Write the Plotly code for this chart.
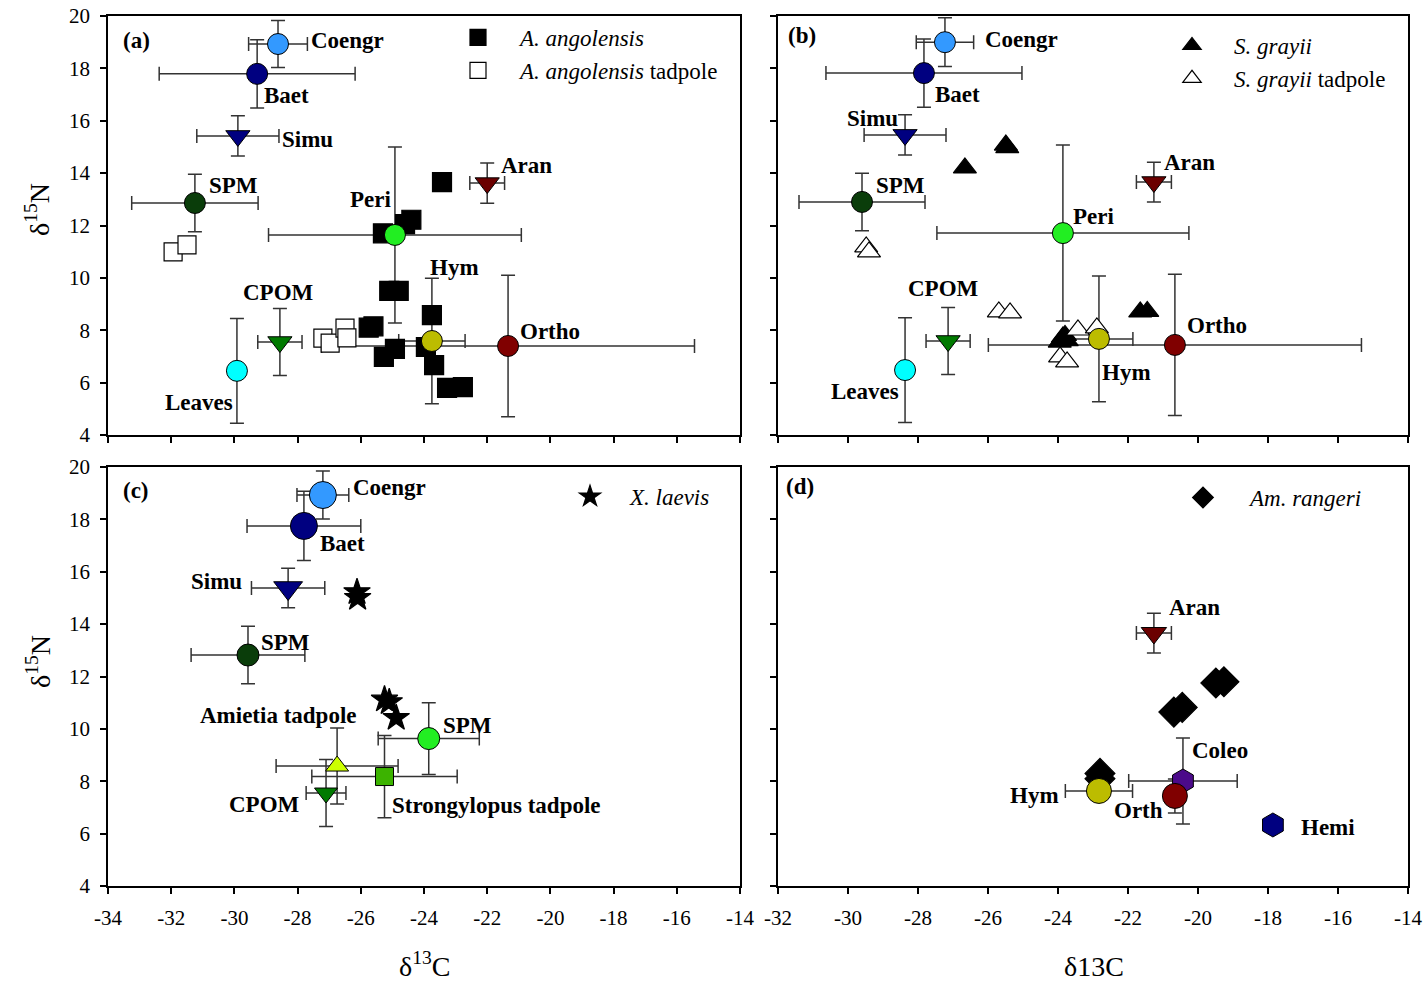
import plotly.graph_objects as go

# ---------------- data ----------------
# panel (a)
a_names = ["Coengr", "Baet", "Simu", "SPM", "Peri", "Aran", "Hym", "Ortho", "CPOM", "Leaves"]
a_x = [-28.62, -29.28, -29.89, -31.25, -24.92, -22.0, -23.75, -21.34, -28.56, -29.92]
a_y = [18.93, 17.79, 15.42, 12.86, 11.64, 13.62, 7.59, 7.40, 7.55, 6.45]
a_xerr = [0.93, 3.1, 1.3, 2.0, 4.0, 0.55, 1.05, 5.9, 0.7, 0]
a_yerr = [0.9, 1.3, 0.77, 1.1, 3.36, 0.77, 2.4, 2.7, 1.28, 2.0]
a_sym = ["circle", "circle", "triangle-down", "circle", "circle", "triangle-down", "circle", "circle", "triangle-down", "circle"]
a_col = ["#3399ff", "#000080", "#000080", "#0a3d0a", "#22ee22", "#6b0000", "#bcbc00", "#800000", "#007a00", "#00ffff"]

ang_x = [-23.43, -24.4, -24.6, -25.3, -25.1, -24.8, -23.75, -25.75, -25.6, -24.92, -25.27, -23.94, -23.68, -23.27, -22.77]
ang_y = [13.66, 12.22, 12.05, 11.7, 9.5, 9.5, 8.58, 8.1, 8.15, 7.29, 6.98, 7.36, 6.67, 5.8, 5.83]
angt_x = [-31.94, -31.5, -27.2, -26.97, -26.5, -26.44]
angt_y = [10.99, 11.26, 7.7, 7.51, 8.08, 7.71]

# panel (b)
b_names = ["Coengr", "Baet", "Simu", "SPM", "Peri", "Aran", "Hym", "Ortho", "CPOM", "Leaves"]
b_x = [-27.23, -27.83, -28.37, -29.6, -23.86, -21.26, -22.83, -20.66, -27.14, -28.37]
b_y = [19.0, 17.82, 15.46, 12.9, 11.71, 13.66, 7.67, 7.44, 7.59, 6.48]
b_xerr = [0.82, 2.8, 1.17, 1.8, 3.6, 0.5, 0.97, 5.33, 0.63, 0]
b_yerr = [0.93, 1.3, 0.77, 1.1, 3.36, 0.76, 2.4, 2.7, 1.28, 2.0]
b_sym = a_sym
b_col = a_col

gra_x = [-25.49, -25.45, -26.66, -21.65, -21.45, -23.86, -23.75, -23.95, -23.8]
gra_y = [15.07, 14.97, 14.2, 8.7, 8.72, 7.74, 7.6, 7.55, 7.8]
grat_x = [-29.48, -29.4, -25.69, -25.37, -23.43, -22.89, -23.94, -23.74]
grat_y = [11.18, 10.99, 8.7, 8.66, 8.01, 8.09, 6.98, 6.79]

# panel (c)
c_names = ["Coengr", "Baet", "Simu", "SPM", "SPM", "CPOM", "Amietia tadpole", "Strongylopus tadpole"]
c_x = [-27.2, -27.8, -28.3, -29.57, -23.85, -27.1, -26.75, -25.25]
c_y = [18.93, 17.75, 15.38, 12.82, 9.63, 7.55, 8.58, 8.18]
c_xerr = [0.82, 1.8, 1.16, 1.8, 1.6, 0.63, 1.93, 2.3]
c_yerr = [0.92, 1.32, 0.75, 1.1, 1.37, 1.28, 1.45, 1.57]
c_sym = ["circle", "circle", "triangle-down", "circle", "circle", "triangle-down", "triangle-up", "square"]
c_col = ["#3399ff", "#000080", "#000080", "#0a3d0a", "#22ee22", "#007a00", "#ccff00", "#3cb300"]
c_size = [27, 27, 25, 22, 22, 20, 20, 18]

lae_x = [-26.12, -26.1, -25.25, -25.1, -24.88]
lae_y = [15.22, 15.0, 11.12, 11.02, 10.42]

# panel (d)
d_names = ["Aran", "Coleo", "Hym", "Orth", "Hemi"]
d_x = [-21.26, -20.43, -22.83, -20.66, -17.86]
d_y = [13.66, 8.01, 7.63, 7.44, 6.33]
d_xerr = [0.5, 1.55, 0.96, 0, 0]
d_yerr = [0.76, 1.64, 0, 0.65, 0]
d_sym = ["triangle-down", "hexagon", "circle", "circle", "hexagon"]
d_col = ["#6b0000", "#4b0a8a", "#bcbc00", "#800000", "#000080"]
d_size = [22, 24, 25, 25, 24]

ran_x = [-19.49, -19.26, -20.69, -20.45, -22.8, -22.8]
ran_y = [11.75, 11.8, 10.64, 10.82, 8.3, 8.1]

# tick labels (hyphen minus as in the original)
x_ticks_left = [-34, -32, -30, -28, -26, -24, -22, -20, -18, -16, -14]
x_ticks_right = [-32, -30, -28, -26, -24, -22, -20, -18, -16, -14]
y_ticks = [4, 6, 8, 10, 12, 14, 16, 18, 20]

# label positions (data coords)
a_lab = [("(a)", -33.11, 19.08), ("Coengr", -26.41, 19.05), ("Baet", -28.34, 16.95), ("Simu", -27.7, 15.27),
         ("SPM", -30.04, 13.51), ("Peri", -25.68, 13.01), ("Aran", -20.77, 14.31), ("Hym", -23.05, 10.38),
         ("CPOM", -28.62, 9.46), ("Ortho", -20.01, 7.97), ("Leaves", -31.12, 5.26)]
b_lab = [("(b)", -31.31, 19.27), ("Coengr", -25.03, 19.12), ("Baet", -26.86, 17.02), ("Simu", -29.29, 16.07),
         ("SPM", -28.51, 13.51), ("Peri", -23.0, 12.36), ("Aran", -20.23, 14.39), ("CPOM", -27.26, 9.61),
         ("Ortho", -19.46, 8.2), ("Hym", -22.03, 6.37), ("Leaves", -29.51, 5.68)]
c_lab = [("(c)", -33.11, 19.12), ("Coengr", -25.08, 19.2), ("Baet", -26.59, 17.06), ("Simu", -30.58, 15.61),
         ("SPM", -28.37, 13.28), ("Amietia tadpole", -28.59, 10.53), ("SPM", -22.61, 10.11),
         ("CPOM", -29.06, 7.13), ("Strongylopus tadpole", -21.72, 7.09)]
d_lab = [("(d)", -31.37, 19.27), ("Aran", -20.11, 14.62), ("Coleo", -19.37, 9.19), ("Hym", -24.66, 7.44),
         ("Orth", -21.71, 6.87), ("Hemi", -16.29, 6.22)]

FONT = "Liberation Serif"
ERRC = "#333333"

fig = go.Figure()


def err(arr):
    return dict(type="data", array=arr, visible=True, color=ERRC, thickness=1.5, width=7)


def add_sources(xs, ys, xe, ye, syms, cols, sizes, ax, stage):
    if stage == "err":
        fig.add_trace(go.Scatter(x=xs, y=ys, mode="markers", xaxis=ax[0], yaxis=ax[1],
                                 marker=dict(size=1, opacity=0), error_x=err(xe), error_y=err(ye),
                                 showlegend=False, hoverinfo="skip"))
    else:
        fig.add_trace(go.Scatter(x=xs, y=ys, mode="markers", xaxis=ax[0], yaxis=ax[1],
                                 marker=dict(size=sizes, symbol=syms, color=cols, opacity=1,
                                             line=dict(color="black", width=1)),
                                 showlegend=False))


def species(xs, ys, sym, fill, size, ax, name, leg):
    fig.add_trace(go.Scatter(x=xs, y=ys, mode="markers", xaxis=ax[0], yaxis=ax[1], name=name,
                             legend=leg, showlegend=True,
                             marker=dict(size=size, symbol=sym, color=fill, opacity=1,
                                         line=dict(color="black", width=1.2))))


# panel a
A = ("x", "y")
add_sources(a_x, a_y, a_xerr, a_yerr, a_sym, a_col, 21, A, "err")
species(ang_x, ang_y, "square", "black", 19, A, "<i>A. angolensis</i>", "legend")
species(angt_x, angt_y, "square", "white", 18, A, "<i>A. angolensis</i> tadpole", "legend")
add_sources(a_x, a_y, a_xerr, a_yerr, a_sym, a_col, 21, A, "mk")

# panel b
B = ("x2", "y2")
add_sources(b_x, b_y, b_xerr, b_yerr, b_sym, b_col, 21, B, "err")
species(gra_x, gra_y, "triangle-up", "black", 20, B, "<i>S. grayii</i>", "legend2")
species(grat_x, grat_y, "triangle-up", "white", 20, B, "<i>S. grayii</i> tadpole", "legend2")
add_sources(b_x, b_y, b_xerr, b_yerr, b_sym, b_col, 21, B, "mk")

# panel c
C = ("x3", "y3")
add_sources(c_x, c_y, c_xerr, c_yerr, c_sym, c_col, c_size, C, "err")
species(lae_x, lae_y, "star", "black", 20, C, "<i>X. laevis</i>", "legend3")
add_sources(c_x, c_y, c_xerr, c_yerr, c_sym, c_col, c_size, C, "mk")

# panel d
D = ("x4", "y4")
add_sources(d_x, d_y, d_xerr, d_yerr, d_sym, d_col, d_size, D, "err")
species(ran_x, ran_y, "diamond", "black", 23, D, "<i>Am. rangeri</i>", "legend4")
add_sources(d_x, d_y, d_xerr, d_yerr, d_sym, d_col, d_size, D, "mk")

annots = []
for labs, ax in ((a_lab, A), (b_lab, B), (c_lab, C), (d_lab, D)):
    for t, x, y in labs:
        annots.append(dict(text="<b>%s</b>" % t, x=x, y=y, xref=ax[0], yref=ax[1], showarrow=False,
                           font=dict(family=FONT, size=23, color="black"), xanchor="center", yanchor="middle"))

W, H = 1425, 984
ttl = dict(family=FONT, size=28, color="black")
annots += [
    dict(text="δ<sup>15</sup>N", x=38 / W, y=1 - 210 / H, xref="paper", yref="paper", textangle=-90,
         showarrow=False, font=ttl, xanchor="center", yanchor="middle"),
    dict(text="δ<sup>15</sup>N", x=38 / W, y=1 - 662 / H, xref="paper", yref="paper", textangle=-90,
         showarrow=False, font=ttl, xanchor="center", yanchor="middle"),
    dict(text="δ<sup>13</sup>C", x=424 / W, y=1 - 964 / H, xref="paper", yref="paper",
         showarrow=False, font=ttl, xanchor="center", yanchor="middle"),
    dict(text="δ13C", x=1094 / W, y=1 - 966 / H, xref="paper", yref="paper",
         showarrow=False, font=ttl, xanchor="center", yanchor="middle"),
]

LX = [108 / W, 740 / W]
RX = [778 / W, 1408 / W]
TY = [1 - 435 / H, 1 - 16 / H]
BY = [1 - 886 / H, 1 - 467 / H]


def xax(dom, rng, anchor, labels, ticks):
    return dict(domain=dom, range=rng, anchor=anchor, tickmode="array", tickvals=ticks,
                ticktext=[str(t) for t in ticks], showgrid=False, zeroline=False, automargin=False,
                showline=True, linecolor="black", linewidth=1.5, mirror=True, ticks="outside", ticklen=6,
                tickwidth=1.5, tickcolor="black", showticklabels=labels, ticklabelstandoff=6,
                tickfont=dict(family=FONT, size=21, color="black"))


def yax(dom, anchor, labels):
    return dict(domain=dom, range=[4, 20], anchor=anchor, tickmode="array", tickvals=y_ticks,
                ticktext=[str(t) for t in y_ticks], showgrid=False, zeroline=False, automargin=False,
                showline=True, linecolor="black", linewidth=1.5, mirror=True, ticks="outside", ticklen=6,
                tickwidth=1.5, tickcolor="black", showticklabels=labels, ticklabelstandoff=6,
                tickfont=dict(family=FONT, size=21, color="black"))


def leg(xpx, ypx, iw):
    return dict(x=xpx / W, y=1 - ypx / H, xanchor="left", yanchor="top", bgcolor="rgba(0,0,0,0)",
                font=dict(family=FONT, size=23, color="black"), itemwidth=iw, tracegroupgap=0)


fig.update_layout(
    width=W, height=H, margin=dict(l=0, r=0, t=0, b=0),
    paper_bgcolor="white", plot_bgcolor="white",
    xaxis=xax(LX, [-34, -14], "y", False, x_ticks_left), yaxis=yax(TY, "x", True),
    xaxis2=xax(RX, [-32, -14], "y2", False, x_ticks_right), yaxis2=yax(TY, "x2", False),
    xaxis3=xax(LX, [-34, -14], "y3", True, x_ticks_left), yaxis3=yax(BY, "x3", True),
    xaxis4=xax(RX, [-32, -14], "y4", True, x_ticks_right), yaxis4=yax(BY, "x4", False),
    legend=leg(436, 16, 74), legend2=leg(1150, 24, 74), legend3=leg(550, 475, 70), legend4=leg(1156, 476, 84),
    annotations=annots,
)

fig.write_html("out.html")
